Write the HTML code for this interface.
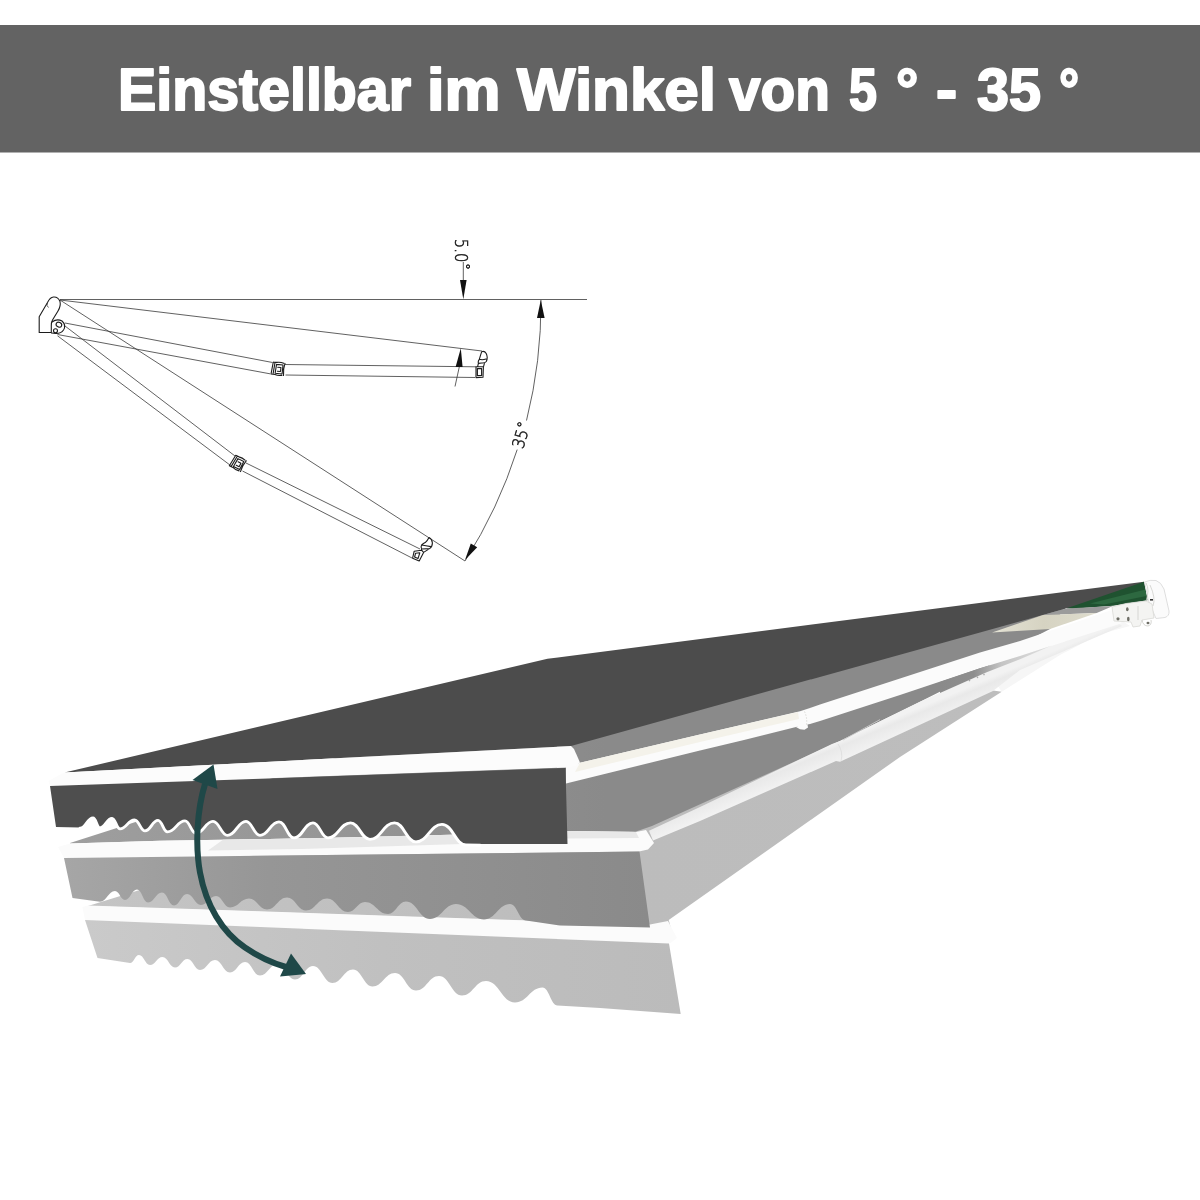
<!DOCTYPE html>
<html lang="de">
<head>
<meta charset="utf-8">
<title>Einstellbar im Winkel von 5 ° - 35 °</title>
<style>
html,body{margin:0;padding:0;background:#fff;}
body{width:1200px;height:1200px;overflow:hidden;position:relative;font-family:"Liberation Sans",sans-serif;}
#stage{position:absolute;left:0;top:0;width:1200px;height:1200px;display:block;}
.hd{font-family:"Liberation Sans",sans-serif;font-weight:bold;font-size:59px;fill:#fff;stroke:#fff;stroke-width:2;stroke-linejoin:round;}
.dim{font-family:"DejaVu Sans Light","DejaVu Sans","Liberation Sans",sans-serif;font-weight:200;fill:#1a1a1a;stroke:#1a1a1a;stroke-width:0.55;}
.ln{fill:none;stroke:#383838;stroke-width:0.8;}
.lnb{fill:none;stroke:#1c1c1c;stroke-width:1.1;stroke-linejoin:round;stroke-linecap:round;}
</style>
</head>
<body>
<svg id="stage" width="1200" height="1200" viewBox="0 0 1200 1200">
<!-- HEADER -->
<g id="header">
<rect x="0" y="25" width="1200" height="127.5" fill="#636363"/>
<text class="hd" y="110"><tspan x="118.0" textLength="293.0" lengthAdjust="spacingAndGlyphs">Einstellbar</tspan> <tspan x="427.0" textLength="73.5" lengthAdjust="spacingAndGlyphs">im</tspan> <tspan x="517.0" textLength="199.0" lengthAdjust="spacingAndGlyphs">Winkel</tspan> <tspan x="729.0" textLength="101.0" lengthAdjust="spacingAndGlyphs">von</tspan> <tspan x="849.0" textLength="28.0" lengthAdjust="spacingAndGlyphs">5</tspan> <tspan x="896.0" textLength="22.4" lengthAdjust="spacingAndGlyphs">°</tspan> <tspan x="936.0" textLength="21.2" lengthAdjust="spacingAndGlyphs">-</tspan> <tspan x="977.0" textLength="64.0" lengthAdjust="spacingAndGlyphs">35</tspan> <tspan x="1059.0" textLength="20.2" lengthAdjust="spacingAndGlyphs">°</tspan></text>
</g>
<!-- DIAGRAM -->
<g id="diagram">
<!-- reference lines -->
<path class="ln" d="M60 299.5H587"/>
<path class="ln" d="M60 300L482 351"/>
<path class="ln" d="M60 300L465 561"/>
<!-- upper arm -->
<path class="ln" d="M65 323L272.5 362.5M57.5 334.5L270 373.8M285 364.5L476 366.8M285.5 375L475 377.5"/>
<!-- lower arm -->
<path class="ln" d="M65 326L235 456M57.5 335.8L230.6 465.5M246 463L420 549M242.5 471L412 558"/>
<!-- arc -->
<path class="ln" d="M541 300A481 481 0 0 1 526.5 420.5"/>
<path class="ln" d="M517.2 449.6A481 481 0 0 1 465 561"/>
<!-- arrows -->
<path class="ln" d="M463.3 262V285M460.8 360L455 386.5"/>
<path d="M463.3 299.3L460 280H466.6Z" fill="#111"/>
<path d="M540.8 300L537 318H544.6Z" fill="#111"/>
<path d="M460.8 348.3L455.6 367H462.6Z" fill="#111"/>
<path d="M465 560L470.8 543.6L477.2 547.2Z" fill="#111"/>
<!-- texts -->
<g opacity="0.99">
<text class="dim" font-size="17.4" transform="translate(454.6 238.8) rotate(90)" textLength="23.6" lengthAdjust="spacingAndGlyphs">5.0</text>
<text class="dim" font-size="14" transform="translate(459.6 263) rotate(90)">°</text>
<text class="dim" font-size="16.6" transform="translate(522.9 449.6) rotate(-73.5)" textLength="19.2" lengthAdjust="spacingAndGlyphs">35</text>
<text class="dim" font-size="14" transform="translate(526.2 430) rotate(-73.5)">°</text>
</g>
<!-- wall bracket -->
<path class="lnb" d="M39.2 332.5V316.7L47.5 302.5Q50 297.3 53.5 297Q58 296.6 60 301.5Q61 306 58 311L52.5 320Q51 323 51.3 326V332.5Z"/>
<path class="lnb" d="M52 322Q57 318.3 62 321Q66.5 325 63.5 330Q61 333.6 56 333.5L51.5 333"/>
<ellipse class="lnb" cx="58.9" cy="324.7" rx="2.9" ry="2.3" transform="rotate(25 58.9 324.7)"/>
<circle class="lnb" cx="55.5" cy="330.8" r="2"/>
<path class="ln" d="M47.5 302.5Q46 306 48.5 307.5" stroke-width="0.5"/>
<!-- elbow 1 -->
<g transform="translate(278.6 368.8) rotate(6)">
<path class="lnb" stroke-width="0.9" d="M-6 -6.2L-7 6M-6 -6.2H-2.5M-7 6H-3M-4.2 -6L-5 5.8M-2.5 -4.2H4V4.8H-3M-2.5 -4.2L-3 4.8M-1 -1.5H2.2V2.5H-1M5.8 -6Q4.4 0 5.6 6.2M-2.5 -6.2Q1 -7.2 4.5 -6M-3 6Q0 7.2 4 6.2"/>
</g>
<!-- elbow 2 -->
<g transform="translate(238.3 463.5) rotate(27)">
<path class="lnb" stroke-width="0.9" d="M-6 -6.2L-7 6M-6 -6.2H-2.5M-7 6H-3M-4.2 -6L-5 5.8M-2.5 -4.2H4V4.8H-3M-2.5 -4.2L-3 4.8M-1 -1.5H2.2V2.5H-1M5.8 -6Q4.4 0 5.6 6.2M-2.5 -6.2Q1 -7.2 4.5 -6M-3 6Q0 7.2 4 6.2"/>
</g>
<!-- end cap 1 -->
<path class="lnb" stroke-width="0.9" d="M481.7 351.7Q484.5 350.6 486.2 353.5Q488.2 357.5 486.3 361.5Q485 363.2 482 363L478.4 363.4Q477.8 361 479.3 359.3Q480.6 355 481.7 351.7ZM478.4 363.4L477.6 366.7M484.5 363.2L483.6 366.3M476 366.8H483.4L483 377.3L476 377.6ZM477.4 368.6H481.6V375.6H477.4ZM479.3 359.3Q482.5 360.3 486 359"/>
<!-- end cap 2 -->
<path class="lnb" stroke-width="0.9" d="M429 537.6Q432 539 432.4 543Q432.3 547 429.6 548.6L421.8 549Q420.4 547 421.6 545Q423.4 543.4 425.2 542.6Q427.6 540.6 429 537.6ZM421.8 549L421 550.6M429.6 548.6L423.6 552.4M414.2 551.2L421.6 550.2L423.6 552.4L419.2 561L412.6 558.2ZM415.6 553.2L419.8 552.8L418 558.6L414.6 557ZM421.6 545Q425.6 545.6 431 546.6"/>
</g>
<!-- AWNING -->
<g id="awning">
<defs>
<linearGradient id="gv2" gradientUnits="userSpaceOnUse" x1="64" y1="880" x2="649" y2="880"><stop offset="0" stop-color="#a6a6a6"/><stop offset="0.35" stop-color="#969696"/><stop offset="1" stop-color="#8a8a8a"/></linearGradient>
<linearGradient id="garm2" gradientUnits="userSpaceOnUse" x1="840" y1="741" x2="848" y2="760"><stop offset="0" stop-color="#f2f2f2"/><stop offset="0.25" stop-color="#e9e9e9"/><stop offset="1" stop-color="#f3f3f3"/></linearGradient>
<linearGradient id="gv3" gradientUnits="userSpaceOnUse" x1="85" y1="0" x2="680" y2="0"><stop offset="0" stop-color="#cacaca"/><stop offset="0.5" stop-color="#c0c0c0"/><stop offset="1" stop-color="#bbbbbb"/></linearGradient>
<linearGradient id="gf3" gradientUnits="userSpaceOnUse" x1="85" y1="0" x2="1000" y2="0"><stop offset="0" stop-color="#c4c4c4"/><stop offset="0.6" stop-color="#bcbcbc"/><stop offset="1" stop-color="#bdbdbd"/></linearGradient>
<linearGradient id="gf2" gradientUnits="userSpaceOnUse" x1="70" y1="0" x2="700" y2="0"><stop offset="0" stop-color="#9e9e9e"/><stop offset="0.45" stop-color="#959595"/><stop offset="0.85" stop-color="#8a8a8a"/><stop offset="1" stop-color="#8a8a8a"/></linearGradient>
<linearGradient id="gcream" gradientUnits="userSpaceOnUse" x1="992" y1="0" x2="1096" y2="0"><stop offset="0" stop-color="#e4e2d4"/><stop offset="0.5" stop-color="#d6d3c2"/><stop offset="1" stop-color="#dedccd"/></linearGradient>
<linearGradient id="gwedge" gradientUnits="userSpaceOnUse" x1="940" y1="0" x2="1052" y2="0"><stop offset="0" stop-color="#8a8a8a"/><stop offset="0.3" stop-color="#8e8e8e"/><stop offset="0.55" stop-color="#c4c4c4"/><stop offset="1" stop-color="#e2e2e2"/></linearGradient>
</defs>
<g id="layer3">
<polygon fill="url(#gf3)" points="88.0,906.0 560.0,760.0 840.0,745.0 993.0,690.5 1001.7,691.7 900.0,757.0 668.7,920.0 672.0,932.0 650.0,925.0"/>
<polygon fill="#fbfbfb" points="82.5,907.0 88.0,905.5 650.0,924.5 668.0,921.0 677.0,938.0 670.0,943.5 85.0,920.5"/>
<path fill="url(#gv3)" d="M85 920L97.5 958L130 963C134.1 963.0 134.9 955.0 139.0 955.0C143.9 955.0 145.1 965.0 150.0 965.0C155.6 965.0 156.9 957.0 162.5 957.0C168.1 957.0 169.4 967.5 175.0 967.5C180.6 967.5 181.9 959.0 187.5 959.0C193.1 959.0 194.4 970.0 200.0 970.0C206.8 970.0 208.2 960.0 215.0 960.0C221.8 960.0 223.2 972.5 230.0 972.5C236.8 972.5 238.2 962.0 245.0 962.0C251.8 962.0 253.2 975.5 260.0 975.5C267.9 975.5 269.6 964.0 277.5 964.0C285.4 964.0 287.1 979.5 295.0 979.5C303.1 979.5 304.9 966.0 313.0 966.0C321.8 966.0 323.7 983.0 332.5 983.0C341.7 983.0 343.8 969.5 353.0 969.5C361.8 969.5 363.7 986.5 372.5 986.5C382.6 986.5 384.9 973.0 395.0 973.0C404.4 973.0 406.6 990.5 416.0 990.5C426.4 990.5 428.6 976.0 439.0 976.0C449.4 976.0 451.6 995.5 462.0 995.5C472.8 995.5 475.2 981.0 486.0 981.0C499.1 981.0 501.9 1002.5 515.0 1002.5C527.4 1002.5 530.1 987.5 542.5 987.5C549.2 987.5 550.8 1005.5 557.5 1005.5L600 1008L680.7 1014L669 943.5Z"/>
</g>
<g id="layer2">
<polygon fill="url(#gf2)" points="70.0,843.0 548.0,690.0 1066.0,606.0 1050.0,629.0 1000.0,655.0 986.7,668.3 920.0,701.7 840.0,741.0 652.0,826.0 636.0,831.5 568.0,831.0 480.0,834.0 300.0,838.5 160.0,840.8 70.0,843.5"/>
<polygon fill="#fbfbfb" points="58.0,847.0 70.0,843.5 160.0,840.8 300.0,838.5 480.0,834.0 568.0,831.0 636.0,832.0 646.0,830.0 654.0,843.0 648.0,849.5 639.0,851.5 64.0,858.0"/>
<polygon fill="#e8e8e8" points="208.0,850.5 223.0,839.8 300.0,838.5 480.0,834.0 568.0,831.0 636.0,832.0 639.0,838.0 568.0,838.5 470.0,843.8 300.0,849.0"/>
<path fill="url(#gv2)" d="M64 858L72.5 898L100 901.7C106.8 901.7 108.2 891.0 115.0 891.0C119.5 891.0 120.5 900.0 125.0 900.0C130.4 900.0 131.6 889.5 137.0 889.5C141.9 889.5 143.1 902.5 148.0 902.5C154.3 902.5 155.7 892.5 162.0 892.5C167.4 892.5 168.6 905.5 174.0 905.5C179.8 905.5 181.2 894.0 187.0 894.0C193.3 894.0 194.7 905.0 201.0 905.0C207.8 905.0 209.2 896.0 216.0 896.0C222.3 896.0 223.7 907.5 230.0 907.5C238.6 907.5 240.4 898.5 249.0 898.5C257.1 898.5 258.9 909.5 267.0 909.5C276.0 909.5 278.0 897.5 287.0 897.5C295.6 897.5 297.4 910.5 306.0 910.5C315.4 910.5 317.6 898.5 327.0 898.5C336.4 898.5 338.6 912.0 348.0 912.0C355.6 912.0 357.4 902.0 365.0 902.0C375.4 902.0 377.6 914.0 388.0 914.0C396.1 914.0 397.9 901.5 406.0 901.5C416.8 901.5 419.2 919.0 430.0 919.0C441.7 919.0 444.3 904.0 456.0 904.0C468.6 904.0 471.4 919.5 484.0 919.5C495.7 919.5 498.3 904.0 510.0 904.0C517.2 904.0 518.8 920.5 526.0 920.5L560 925.5L650 927.5L639.5 851.5Z"/>
</g>
<g id="layer1">
<polygon fill="#f6f6f6" points="1001.7,691.7 1060.0,655.0 1100.0,634.0 1130.0,626.0 1121.0,620.0 1020.0,655.0 986.0,668.0"/>
<polygon fill="url(#garm2)" points="649.0,830.7 700.0,807.0 832.0,744.0 840.0,741.0 920.0,701.7 986.7,672.0 1020.0,659.0 1050.0,646.5 1115.0,620.0 1122.0,626.0 1020.0,670.0 993.0,691.0 840.0,761.7 836.0,761.0 700.0,821.0 653.0,840.5"/>
<polygon fill="#fbfbfb" points="580.0,762.7 700.0,734.5 800.0,711.3 810.0,708.0 820.0,704.5 900.0,678.5 980.0,652.5 1020.0,641.0 1111.7,610.0 1121.7,623.3 1020.0,656.0 980.0,668.3 900.0,695.0 820.0,721.0 810.0,724.0 800.0,726.0 744.0,740.0 700.0,750.5 566.0,783.5 566.0,767.0"/>
<polygon fill="#f4f2ea" points="580.0,762.7 700.0,734.5 798.0,712.0 799.0,719.0 700.0,742.0 575.0,772.0"/>
<polygon fill="#fbfbfb" points="796.0,727.0 800.0,729.3 804.5,729.8 808.0,727.5 807.0,722.0"/>
<path fill="none" stroke="#d4d4d0" stroke-width="0.8" stroke-dasharray="1.5 1.5" d="M804.5 711.5Q807.5 718 806.5 725"/>
<path fill="none" stroke="#c9c9c9" stroke-width="0.9" d="M843 740L880 719.6"/>
<path fill="none" stroke="#dcdcdc" stroke-width="0.8" d="M838 744Q843.5 752 841 761"/>
<polygon fill="#4c4c4c" points="64.5,772.5 547.5,658.8 1144.0,581.7 1147.0,599.0 1075.0,608.0 1066.7,608.3 980.0,632.5 571.0,746.0"/>
<polygon fill="#1f5230" points="1066.7,608.3 1144.0,581.7 1147.5,600.3 1113.0,605.8 1073.0,608.7"/>
<polygon fill="#2d6840" points="1090.0,603.5 1145.5,589.5 1146.5,596.0 1104.0,604.5"/>
<polygon fill="#9b9b9b" points="1043.0,615.0 1066.7,608.4 1113.0,605.9 1096.7,613.0"/>
<polygon fill="url(#gwedge)" points="940.0,682.0 980.0,668.3 1020.0,656.0 1052.0,645.5 1020.0,659.3 986.7,672.3 940.0,693.0"/>
<g fill="#a8a8a8"><circle cx="969.5" cy="680.6" r="0.8"/><circle cx="977.5" cy="677.4" r="0.8"/><circle cx="984" cy="674.6" r="0.8"/></g>
<polygon fill="url(#gcream)" points="992.0,632.5 1043.0,615.0 1096.7,613.0 1050.0,629.0"/>
<path fill="#fbfbfb" stroke="#dedede" stroke-width="1" d="M1144.5 582Q1150 579.5 1156 580.5Q1161 582 1164 589L1169 611Q1169.5 616 1165 617.5L1156 618.5L1148.5 601Z"/>
<path fill="#f4f4f2" stroke="#d9d9d6" stroke-width="0.8" d="M1112 607L1126 603.5L1146 601L1152 604L1154 618L1142 620L1140 626L1133 627L1131 622L1114 621Z"/>
<path fill="none" stroke="#cfcfcc" stroke-width="0.8" d="M1138 606V620M1146 601Q1150 590 1146 583M1150 585Q1156 598 1153 606"/>
<g fill="#6e6e66"><ellipse cx="1127.3" cy="609.3" rx="1.3" ry="2"/><ellipse cx="1118" cy="618.8" rx="1.6" ry="1.6"/><ellipse cx="1128.3" cy="619" rx="1.3" ry="2.2"/><ellipse cx="1148" cy="623" rx="1.5" ry="1.2"/><rect x="1150" y="599" width="3" height="1.6" fill="#333"/></g>
<path fill="none" stroke="#d0d0cc" stroke-width="0.9" d="M1142 620Q1143 626 1148 626Q1152 625 1151 620"/>
<polygon fill="#fcfcfc" points="48.5,781.0 62.0,773.5 64.5,772.5 571.0,746.0 574.0,749.0 580.0,762.5 575.0,766.0 567.5,767.5 50.0,786.0"/>
<path fill="#4e4e4e" d="M50 786L56 827L80 827.5C85.8 827.5 87.2 817.0 93.0 817.0C96.2 817.0 96.8 827.0 100.0 827.0C105.4 827.0 106.6 817.5 112.0 817.5C115.6 817.5 116.4 828.0 120.0 828.0C126.5 828.0 128.0 819.0 134.5 819.0C139.2 819.0 140.3 830.0 145.0 830.0C150.8 830.0 152.2 819.5 158.0 819.5C162.3 819.5 163.2 831.0 167.5 831.0C175.4 831.0 177.1 820.0 185.0 820.0C189.9 820.0 191.1 832.5 196.0 832.5C203.7 832.5 205.3 820.5 213.0 820.5C219.5 820.5 221.0 834.5 227.5 834.5C235.8 834.5 237.7 820.5 246.0 820.5C252.3 820.5 253.7 834.5 260.0 834.5C268.6 834.5 270.4 821.0 279.0 821.0C285.8 821.0 287.2 837.0 294.0 837.0C302.6 837.0 304.4 822.0 313.0 822.0C319.8 822.0 321.2 837.0 328.0 837.0C338.1 837.0 340.4 822.0 350.5 822.0C359.3 822.0 361.2 838.5 370.0 838.5C381.0 838.5 383.5 822.0 394.5 822.0C404.2 822.0 406.3 841.0 416.0 841.0C427.7 841.0 430.3 823.5 442.0 823.5C452.8 823.5 455.2 844.0 466.0 844.0L567.5 844L565.5 768Z"/>
<path fill="none" stroke="#fff" stroke-width="2.9" stroke-linejoin="round" stroke-linecap="round" d="M80 828.2C85.8 828.4 87.2 817.9 93.0 817.9C96.2 817.9 96.8 827.9 100.0 827.9C105.4 827.9 106.6 818.4 112.0 818.4C115.6 818.4 116.4 828.9 120.0 828.9C126.5 828.9 128.0 819.9 134.5 819.9C139.2 819.9 140.3 830.9 145.0 830.9C150.8 830.9 152.2 820.4 158.0 820.4C162.3 820.4 163.2 831.9 167.5 831.9C175.4 831.9 177.1 820.9 185.0 820.9C189.9 820.9 191.1 833.4 196.0 833.4C203.7 833.4 205.3 821.4 213.0 821.4C219.5 821.4 221.0 835.4 227.5 835.4C235.8 835.4 237.7 821.4 246.0 821.4C252.3 821.4 253.7 835.4 260.0 835.4C268.6 835.4 270.4 821.9 279.0 821.9C285.8 821.9 287.2 837.9 294.0 837.9C302.6 837.9 304.4 822.9 313.0 822.9C319.8 822.9 321.2 837.9 328.0 837.9C338.1 837.9 340.4 822.9 350.5 822.9C359.3 822.9 361.2 839.4 370.0 839.4C381.0 839.4 383.5 822.9 394.5 822.9C404.2 822.9 406.3 841.9 416.0 841.9C427.7 841.9 430.3 824.4 442.0 824.4C452.8 824.4 455.2 844.9 466.0 844.9L480 845.2"/>
</g>
<g id="arrow" fill="#1f4848">
<path fill="none" stroke="#1f4848" stroke-width="6" d="M205 784C197 810 195 845 200 872.5C206 905 222 932 245 947.5C258 956.5 272 963 286 967"/>
<polygon points="213.5,764.5 192.5,780.0 217.5,789.0"/>
<polygon points="306.0,974.0 291.0,953.5 280.0,976.5"/>
</g>
</g>
</svg>
</body>
</html>
